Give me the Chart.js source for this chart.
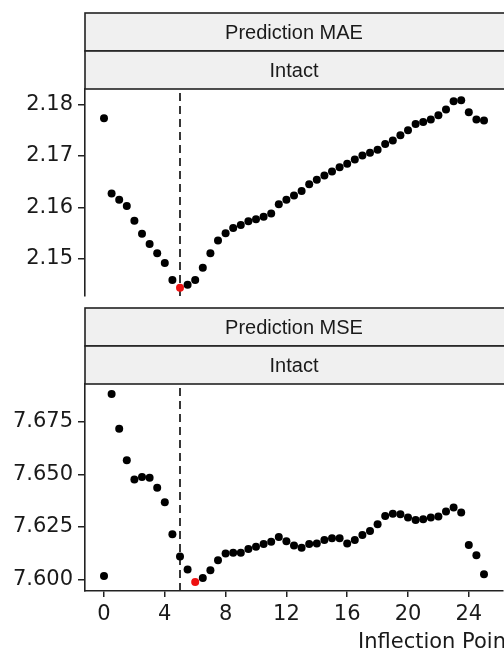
<!DOCTYPE html>
<html>
<head>
<meta charset="utf-8">
<script src="https://cdn.jsdelivr.net/npm/chart.js@4.4.1/dist/chart.umd.min.js"></script>
<style>
  html, body { margin: 0; padding: 0; background: #fff; overflow: hidden; width: 504px; height: 654px; }
  #wrap { position: relative; width: 504px; height: 654px; overflow: hidden; }
  canvas { position: absolute; left: 0; }
</style>
</head>
<body>
<div id="wrap">
  <canvas id="maePanel" width="507" height="300" style="top:0px"></canvas>
  <canvas id="msePanel" width="507" height="354" style="top:300px"></canvas>
</div>
<script>
// Candidate inflection points (x) and the prediction error at each one
const inflectionPoints = [
  0, 0.5, 1, 1.5, 2, 2.5, 3, 3.5, 4, 4.5,
  5, 5.5, 6, 6.5, 7, 7.5, 8, 8.5, 9, 9.5,
  10, 10.5, 11, 11.5, 12, 12.5, 13, 13.5, 14, 14.5,
  15, 15.5, 16, 16.5, 17, 17.5, 18, 18.5, 19, 19.5,
  20, 20.5, 21, 21.5, 22, 22.5, 23, 23.5, 24, 24.5, 25
];
const maeValues = [
  2.1773, 2.1627, 2.1615, 2.1603, 2.1574, 2.1549, 2.1529, 2.1511, 2.1492, 2.1459,
  2.1444, 2.1450, 2.1459, 2.1483, 2.1511, 2.1536, 2.1550, 2.1560, 2.1566, 2.1573,
  2.1577, 2.1582, 2.1588, 2.1606, 2.1615, 2.1623, 2.1632, 2.1645, 2.1654, 2.1662,
  2.1670, 2.1678, 2.1685, 2.1693, 2.1701, 2.1706, 2.1712, 2.1723, 2.1730, 2.1740,
  2.1750, 2.1762, 2.1766, 2.1771, 2.1779, 2.1790, 2.1806, 2.1808, 2.1785, 2.1771, 2.1769
];
const mseValues = [
  7.6016, 7.6883, 7.6718, 7.6567, 7.6476, 7.6487, 7.6484, 7.6436, 7.6367, 7.6215,
  7.6108, 7.6047, 7.5987, 7.6006, 7.6043, 7.6091, 7.6123, 7.6126, 7.6126, 7.6144,
  7.6155, 7.6168, 7.6179, 7.6201, 7.6181, 7.6161, 7.6150, 7.6168, 7.6171, 7.6187,
  7.6195, 7.6195, 7.6171, 7.6187, 7.6211, 7.6230, 7.6262, 7.6302, 7.6312, 7.6310,
  7.6294, 7.6282, 7.6286, 7.6294, 7.6299, 7.6323, 7.6342, 7.6318, 7.6163, 7.6115, 7.6024
];
const maeTicks = [2.15, 2.16, 2.17, 2.18];
const mseTicks = [7.600, 7.625, 7.650, 7.675];
const xTicks = [0, 4, 8, 12, 16, 20, 24];
const maeRange = [2.1428, 2.1830];
const mseRange = [7.5944, 7.6931];
const xRange = [-1.25, 26.25];
const referencePoint = 5;
const maeStrips = ['Prediction MAE', 'Intact'];
const mseStrips = ['Prediction MSE', 'Intact'];
const xTitle = 'Inflection Point';

const INK = '#1a1a1a';
const AXIS = '#222222';
const TICK_FONT = { family: '"DejaVu Sans", sans-serif', size: 21 };

// Keep the plotting area fixed: no extra room reserved for overhanging tick labels
function noOverhang(scale) {
  scale.paddingTop = 0;
  scale.paddingBottom = 0;
  scale.paddingLeft = 0;
  scale.paddingRight = 0;
}

// Facet strip headers stacked above the plotting area
const facetStrips = {
  id: 'facetStrips',
  afterDraw(chart, args, opts) {
    const { ctx, chartArea } = chart;
    const h = opts.height;
    const labels = opts.labels || [];
    const w = chartArea.right - chartArea.left + 4;
    ctx.save();
    labels.forEach((text, i) => {
      const top = chartArea.top - (labels.length - i) * h;
      ctx.fillStyle = '#f0f0f0';
      ctx.fillRect(chartArea.left, top, w, h);
      ctx.strokeStyle = AXIS;
      ctx.lineWidth = 1.6;
      ctx.strokeRect(chartArea.left, top, w, h);
      ctx.fillStyle = INK;
      ctx.font = '20px "Liberation Sans", Arial, sans-serif';
      ctx.textAlign = 'center';
      ctx.textBaseline = 'middle';
      ctx.fillText(text, (chartArea.left + chartArea.right) / 2, top + h / 2 + 1);
    });
    ctx.restore();
  }
};

// Horizontal axis title, set at a fixed offset under the axis
const axisTitle = {
  id: 'axisTitle',
  afterDraw(chart, args, opts) {
    if (!opts.text) return;
    const { ctx } = chart;
    ctx.save();
    ctx.fillStyle = INK;
    ctx.font = '21px "DejaVu Sans", sans-serif';
    ctx.textAlign = 'left';
    ctx.textBaseline = 'alphabetic';
    ctx.fillText(opts.text, opts.x, opts.y);
    ctx.restore();
  }
};

function buildPanel(canvasId, values, yRange, yTicks, decimals, strips, showX, padTop, padBottom) {
  const [yMin, yMax] = yRange;
  const best = Math.min(...values);
  const points = inflectionPoints.map((x, i) => ({ x, y: values[i] }));
  const colors = values.map(v => (v === best ? '#ee1111' : '#000000'));

  return new Chart(document.getElementById(canvasId), {
    type: 'scatter',
    data: {
      datasets: [
        {
          data: points,
          pointRadius: 4,
          pointHoverRadius: 4,
          pointBackgroundColor: colors,
          pointBorderWidth: 0,
          order: 0
        },
        {
          type: 'line',
          data: [{ x: referencePoint, y: yMin }, { x: referencePoint, y: yMax }],
          borderColor: AXIS,
          borderWidth: 1.8,
          borderDash: [8, 5],
          pointRadius: 0,
          order: 1
        }
      ]
    },
    options: {
      responsive: false,
      animation: false,
      events: [],
      layout: { padding: { top: padTop, bottom: padBottom, left: 0, right: 0 } },
      plugins: {
        legend: { display: false },
        tooltip: { enabled: false },
        facetStrips: { labels: strips, height: 38 },
        axisTitle: showX ? { text: xTitle, x: 358, y: 348 } : { text: '' }
      },
      scales: {
        x: {
          type: 'linear',
          min: xRange[0],
          max: xRange[1],
          display: showX,
          afterBuildTicks(scale) { scale.ticks = xTicks.map(v => ({ value: v })); },
          afterFit(scale) { scale.height = showX ? 63 : 0; noOverhang(scale); },
          ticks: { color: INK, font: TICK_FONT, padding: 5, maxRotation: 0, autoSkip: false },
          grid: { drawOnChartArea: false, drawTicks: true, tickLength: 6, color: AXIS, lineWidth: 1.5 },
          border: { display: true, color: AXIS, width: 1.6 }
        },
        y: {
          type: 'linear',
          min: yMin,
          max: yMax,
          afterBuildTicks(scale) { scale.ticks = yTicks.map(v => ({ value: v })); },
          afterFit(scale) { scale.width = 85; noOverhang(scale); },
          ticks: {
            color: INK,
            font: TICK_FONT,
            padding: 5,
            autoSkip: false,
            callback: v => Number(v).toFixed(decimals)
          },
          grid: { drawOnChartArea: false, drawTicks: true, tickLength: 7, color: AXIS, lineWidth: 1.5 },
          border: { display: true, color: AXIS, width: 1.6 }
        }
      }
    },
    plugins: [facetStrips, axisTitle]
  });
}

buildPanel('maePanel', maeValues, maeRange, maeTicks, 2, maeStrips, false, 89, 4);
buildPanel('msePanel', mseValues, mseRange, mseTicks, 3, mseStrips, true, 84, 0);
</script>
</body>
</html>
